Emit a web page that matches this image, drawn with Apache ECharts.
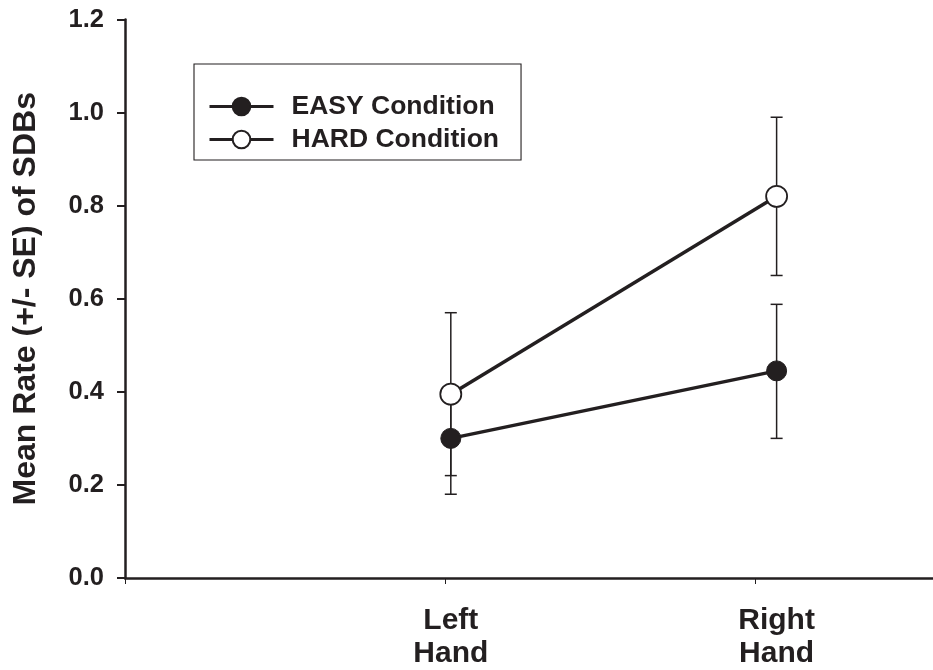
<!DOCTYPE html>
<html>
<head>
<meta charset="utf-8">
<script src="https://cdn.jsdelivr.net/npm/echarts@6/dist/echarts.min.js"></script>
<style>html,body{margin:0;padding:0;background:#fff;}#c{width:933px;height:670px;}</style>
</head>
<body>
<div id="c"></div>
<script>
// ---- data ----
var categories = ['Left\nHand', 'Right\nHand'];
var xPositions = [1, 2];
var easyMean = [0.30, 0.445];
var easyLow  = [0.22, 0.30];
var easyHigh = [0.38, 0.588];
var hardMean = [0.395, 0.82];
var hardLow  = [0.18, 0.65];
var hardHigh = [0.57, 0.99];
var yTicks = [0, 0.2, 0.4, 0.6, 0.8, 1.0, 1.2];

var INK = '#231f20';
var FONT = '"Liberation Sans", Arial, Helvetica, sans-serif';

function pts(means) { return xPositions.map(function (x, i) { return [x, means[i]]; }); }
function bars(lo, hi) { return xPositions.map(function (x, i) { return [x, lo[i], hi[i]]; }); }

function errRender(params, api) {
  var x = api.value(0);
  var pLo = api.coord([x, api.value(1)]);
  var pHi = api.coord([x, api.value(2)]);
  var hw = 6;
  var st = { stroke: INK, lineWidth: 1.5 };
  return {
    type: 'group',
    children: [
      { type: 'line', shape: { x1: pLo[0], y1: pLo[1], x2: pHi[0], y2: pHi[1] }, style: st },
      { type: 'line', shape: { x1: pLo[0] - hw, y1: pLo[1], x2: pLo[0] + hw, y2: pLo[1] }, style: st },
      { type: 'line', shape: { x1: pHi[0] - hw, y1: pHi[1], x2: pHi[0] + hw, y2: pHi[1] }, style: st }
    ]
  };
}

var chart = echarts.init(document.getElementById('c'), null, { renderer: 'canvas' });
chart.setOption({
  backgroundColor: '#fff',
  animation: false,
  textStyle: { fontFamily: FONT, color: INK },
  grid: { left: 125, right: 0, top: 19.5, bottom: 89, containLabel: false },
  legend: {
    orient: 'vertical',
    left: 194, top: 64,
    width: 300,
    padding: [29, 22, 7, 14],
    borderColor: INK, borderWidth: 1.1, borderRadius: 0,
    itemWidth: 64, itemHeight: 22, itemGap: 6,
    lineStyle: { width: 3 },
    data: ['EASY Condition', 'HARD Condition'],
    textStyle: { fontFamily: FONT, fontSize: 26.5, fontWeight: 'bold', color: INK, padding: [0, 0, 0, 13], lineHeight: 22 }
  },
  xAxis: {
    type: 'value', min: 0, max: 2.48, interval: 1,
    splitLine: { show: false },
    axisLine: { show: true, lineStyle: { color: INK, width: 2.5 } },
    axisTick: { show: true, length: 6, lineStyle: { color: INK, width: 1 }, customValues: [0, 0.982, 1.933] },
    axisLabel: {
      customValues: xPositions,
      margin: 26, fontFamily: FONT, fontSize: 30, fontWeight: 'bold', color: INK, lineHeight: 33,
      formatter: function (v) { var i = xPositions.indexOf(v); return i >= 0 ? categories[i] : ''; }
    }
  },
  yAxis: {
    type: 'value', min: 0, max: 1.2, interval: 0.2,
    name: 'Mean Rate (+/- SE) of SDBs', nameLocation: 'middle', nameRotate: 90, nameGap: 83,
    nameTextStyle: { fontFamily: FONT, fontSize: 32, fontWeight: 'bold', color: INK },
    splitLine: { show: false },
    axisLine: { show: true, lineStyle: { color: INK, width: 2.5 } },
    axisTick: { show: true, length: 8, lineStyle: { color: INK, width: 2 } },
    axisLabel: {
      margin: 21, fontFamily: FONT, fontSize: 25.5, fontWeight: 'bold', color: INK,
      formatter: function (v) { return v.toFixed(1); }
    }
  },
  series: [
    { type: 'custom', name: 'easyErr', renderItem: errRender, data: bars(easyLow, easyHigh), z: 1, silent: true },
    { type: 'custom', name: 'hardErr', renderItem: errRender, data: bars(hardLow, hardHigh), z: 1, silent: true },
    {
      type: 'line', name: 'EASY Condition', data: pts(easyMean), z: 3,
      symbol: 'circle', symbolSize: 20,
      lineStyle: { color: INK, width: 3.5 },
      itemStyle: { color: INK, borderColor: INK, borderWidth: 1 }
    },
    {
      type: 'line', name: 'HARD Condition', data: pts(hardMean), z: 4,
      symbol: 'circle', symbolSize: 21,
      lineStyle: { color: INK, width: 3.5 },
      itemStyle: { color: '#fff', borderColor: INK, borderWidth: 1.8 }
    }
  ]
});
</script>
</body>
</html>
